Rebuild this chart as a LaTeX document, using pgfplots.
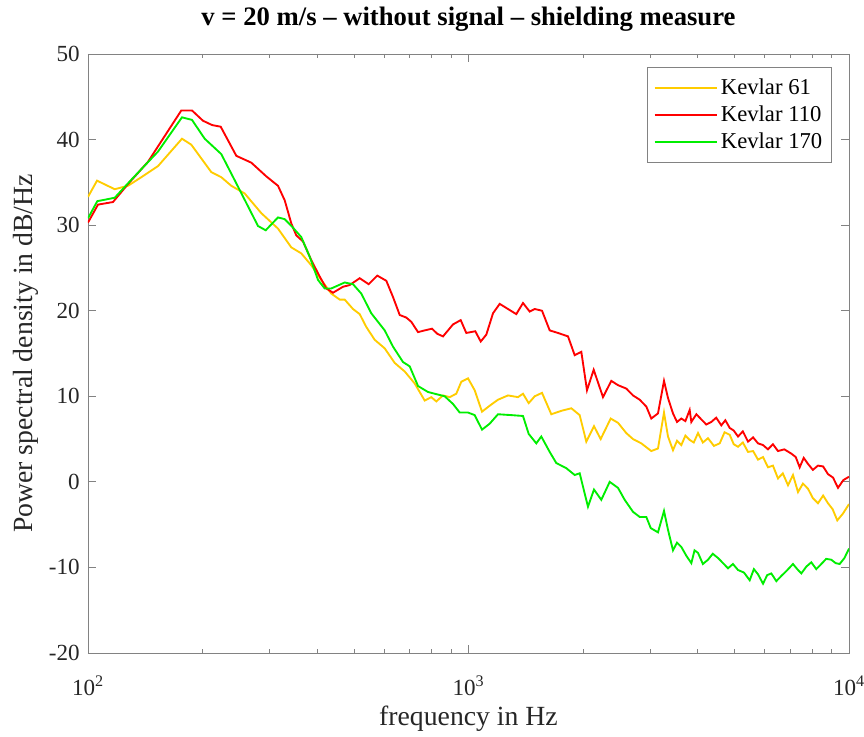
\documentclass[border=0pt]{standalone}
\usepackage{pgfplots}
\pgfplotsset{compat=1.18}
\usepackage{pgfplotstable}
\usepackage{fontspec}
\setmainfont{Liberation Serif}
\definecolor{kyel}{RGB}{255,204,0}
\definecolor{kred}{RGB}{255,0,0}
\definecolor{kgrn}{RGB}{0,238,0}
\definecolor{frame}{RGB}{130,130,130}

% columns: lg = log10(frequency in Hz), db = PSD in dB/Hz
\pgfplotstableread{
lg db
2.0000 33.3
2.0237 35.2
2.0702 34.2
2.1051 34.6
2.1401 35.6
2.1840 36.9
2.2470 40.1
2.2715 39.4
2.3240 36.2
2.3503 35.6
2.3766 34.6
2.4118 33.7
2.4555 31.4
2.4993 29.6
2.5343 27.4
2.5606 26.7
2.5869 25.3
2.6131 23.6
2.6394 22.0
2.6615 21.3
2.6746 21.3
2.6964 20.2
2.7141 19.6
2.7314 18.1
2.7535 16.6
2.7798 15.6
2.8060 13.9
2.8323 12.9
2.8586 11.5
2.8849 9.5
2.9022 9.9
2.9154 9.4
2.9330 10.1
2.9506 9.9
2.9679 10.3
2.9811 11.7
2.9987 12.1
3.0163 10.7
3.0355 8.2
3.0557 8.9
3.0775 9.6
3.1038 10.1
3.1301 9.9
3.1432 10.3
3.1582 9.2
3.1740 10.0
3.1932 10.4
3.2176 7.9
3.2439 8.3
3.2702 8.6
3.2922 7.8
3.3096 4.7
3.3298 6.5
3.3474 5.0
3.3737 7.4
3.3929 6.9
3.4147 5.7
3.4323 5.0
3.4541 4.5
3.4804 3.6
3.4980 3.9
3.5138 8.1
3.5243 5.3
3.5374 3.7
3.5480 4.8
3.5593 4.3
3.5700 5.4
3.5813 4.9
3.5920 4.6
3.6032 5.7
3.6160 4.6
3.6294 5.1
3.6450 4.2
3.6602 4.5
3.6730 5.8
3.6865 5.5
3.6970 4.4
3.7083 4.1
3.7210 4.6
3.7346 3.5
3.7480 3.6
3.7608 2.6
3.7740 2.9
3.7871 1.7
3.8000 1.9
3.8134 0.4
3.8260 1.0
3.8397 -0.4
3.8528 0.8
3.8660 -1.2
3.8790 -0.2
3.8922 -0.8
3.9050 -1.9
3.9185 -2.5
3.9320 -1.6
3.9448 -2.5
3.9570 -3.2
3.9692 -4.5
3.9842 -3.7
4.0000 -2.6
}\kevA

\pgfplotstableread{
lg db
2.0000 30.3
2.0263 32.4
2.0657 32.7
2.1051 34.8
2.1577 37.4
2.2452 43.4
2.2733 43.4
2.3022 42.2
2.3259 41.7
2.3488 41.5
2.3898 38.1
2.4292 37.3
2.4686 35.7
2.4993 34.6
2.5170 32.9
2.5343 30.2
2.5474 28.8
2.5650 28.1
2.5869 25.9
2.6089 24.0
2.6263 22.6
2.6439 22.1
2.6702 22.8
2.6878 23.0
2.7141 23.8
2.7377 23.1
2.7603 24.1
2.7840 23.5
2.8016 21.6
2.8192 19.5
2.8365 19.2
2.8497 18.7
2.8673 17.5
2.8849 17.7
2.9041 17.9
2.9180 17.3
2.9330 17.0
2.9593 18.4
2.9795 18.9
2.9942 17.4
3.0179 17.6
3.0321 16.4
3.0468 17.2
3.0644 19.7
3.0820 20.8
3.1038 20.2
3.1256 19.6
3.1432 20.9
3.1608 19.9
3.1740 20.2
3.1932 20.0
3.2134 17.7
3.2352 17.4
3.2615 17.0
3.2791 14.8
3.2965 15.2
3.3114 10.7
3.3290 13.1
3.3535 9.9
3.3753 11.8
3.3929 11.3
3.4147 10.9
3.4323 10.1
3.4499 9.6
3.4673 8.8
3.4804 7.4
3.4980 8.0
3.5138 11.8
3.5243 9.8
3.5374 8.0
3.5480 7.0
3.5593 7.4
3.5700 7.1
3.5813 8.4
3.5856 7.0
3.5990 7.9
3.6118 7.3
3.6250 6.7
3.6381 7.0
3.6510 7.5
3.6644 6.6
3.6750 7.2
3.6865 6.3
3.6970 6.0
3.7083 5.3
3.7210 5.9
3.7346 4.7
3.7480 5.2
3.7608 4.5
3.7740 4.3
3.7871 3.8
3.8000 4.4
3.8134 3.6
3.8300 3.8
3.8484 3.3
3.8600 2.9
3.8704 1.7
3.8810 2.8
3.8922 2.1
3.9050 1.4
3.9185 1.9
3.9320 1.8
3.9448 0.9
3.9580 0.5
3.9711 -0.7
3.9850 0.2
4.0000 0.6
}\kevB

\pgfplotstableread{
lg db
2.0000 30.8
2.0244 32.8
2.0702 33.2
2.1138 35.3
2.1840 38.6
2.2470 42.6
2.2733 42.3
2.3067 40.1
2.3503 38.3
2.3942 34.5
2.4468 29.9
2.4670 29.4
2.4993 30.9
2.5170 30.7
2.5388 29.7
2.5606 28.6
2.5827 26.3
2.6045 23.6
2.6221 22.6
2.6394 22.6
2.6746 23.3
2.6964 23.1
2.7183 22.0
2.7445 19.7
2.7798 17.7
2.8016 15.8
2.8279 14.0
2.8455 13.5
2.8673 11.2
2.8936 10.5
2.9112 10.3
2.9375 10.0
2.9593 9.1
2.9769 8.1
2.9987 8.1
3.0163 7.8
3.0355 6.1
3.0557 6.8
3.0775 7.9
3.1125 7.8
3.1432 7.7
3.1582 5.6
3.1782 4.5
3.1913 5.3
3.2134 3.5
3.2307 2.2
3.2570 1.6
3.2791 0.8
3.2922 1.0
3.3140 -2.9
3.3298 -0.9
3.3490 -2.1
3.3711 0.0
3.3929 -0.7
3.4105 -2.1
3.4323 -3.5
3.4499 -4.1
3.4673 -4.1
3.4789 -5.4
3.4980 -5.9
3.5138 -3.4
3.5243 -5.6
3.5374 -8.0
3.5480 -7.1
3.5593 -7.6
3.5720 -8.6
3.5856 -9.5
3.5940 -8.0
3.6032 -8.3
3.6160 -9.6
3.6294 -9.1
3.6420 -8.4
3.6557 -8.9
3.6690 -9.5
3.6820 -10.1
3.6950 -9.6
3.7083 -10.3
3.7240 -10.6
3.7390 -11.5
3.7500 -10.2
3.7608 -10.8
3.7740 -11.9
3.7850 -10.9
3.7958 -10.7
3.8090 -11.6
3.8221 -11.0
3.8380 -10.3
3.8528 -9.6
3.8640 -10.2
3.8747 -10.7
3.8880 -9.9
3.9009 -9.4
3.9140 -10.2
3.9272 -9.6
3.9400 -9.0
3.9535 -9.1
3.9650 -9.5
3.9755 -9.6
3.9880 -8.9
4.0000 -7.8
}\kevC

\begin{document}
\begin{tikzpicture}
\begin{axis}[
  scale only axis,
  width=570.75pt, height=449.25pt,
  xmin=2, xmax=4, ymin=-20, ymax=50,
  xtick={2,3,4},
  xticklabels={10\textsuperscript{2},10\textsuperscript{3},10\textsuperscript{4}},
  minor xtick={2.30103,2.47712,2.60206,2.69897,2.77815,2.84510,2.90309,2.95424,
               3.30103,3.47712,3.60206,3.69897,3.77815,3.84510,3.90309,3.95424},
  ytick={-20,-10,0,10,20,30,40,50},
  yticklabels={-20,-10,0,10,20,30,40,50},
  tick align=inside,
  major tick length=6pt, minor tick length=3pt,
  axis line style={draw=frame, line width=0.6pt},
  every tick/.style={draw=frame, line width=0.6pt},
  tick label style={font=\fontsize{17.3}{20}\selectfont, text=black!85},
  xticklabel style={anchor=base, yshift=-31.5pt, inner sep=0pt},
  yticklabel style={anchor=east, inner sep=0pt, xshift=-6pt},
  title={v = 20 m/s -- without signal -- shielding measure},
  title style={font=\fontsize{20}{24}\selectfont\bfseries, anchor=base, at={(axis description cs:0.5,1.035)}},
  xlabel={frequency in Hz},
  xlabel style={font=\fontsize{20.8}{24}\selectfont, text=black!85, anchor=base, at={(axis description cs:0.5,-0.1213)}},
  ylabel={Power spectral density in dB/Hz},
  ylabel style={font=\fontsize{20.8}{24}\selectfont, text=black!85, anchor=base, at={(axis description cs:-0.0723,0.5)}},
  legend style={at={(axis description cs:1,1)}, anchor=north east,
     xshift=-12.75pt, yshift=-9.75pt, draw=frame, line width=0.6pt,
     font=\fontsize{17}{20}\selectfont, inner xsep=5pt, inner ysep=7pt,
     row sep=4pt, nodes={inner ysep=1.5pt}},
  legend cell align=left,
  legend image code/.code={\draw[#1] (0pt,0pt) -- (47pt,0pt);},
  clip=true,
]
\addplot[kyel, line width=1.4pt] table[x=lg, y=db] {\kevA};
\addlegendentry{Kevlar 61}
\addplot[kred, line width=1.4pt] table[x=lg, y=db] {\kevB};
\addlegendentry{Kevlar 110}
\addplot[kgrn, line width=1.4pt] table[x=lg, y=db] {\kevC};
\addlegendentry{Kevlar 170}
\coordinate (bl) at (rel axis cs:0,0);
\coordinate (tr) at (rel axis cs:1,1);
\end{axis}
\pgfresetboundingbox
\useasboundingbox ([shift={(-66pt,-62.25pt)}]bl) rectangle ([shift={(11.25pt,40.5pt)}]tr);
\end{tikzpicture}
\end{document}
